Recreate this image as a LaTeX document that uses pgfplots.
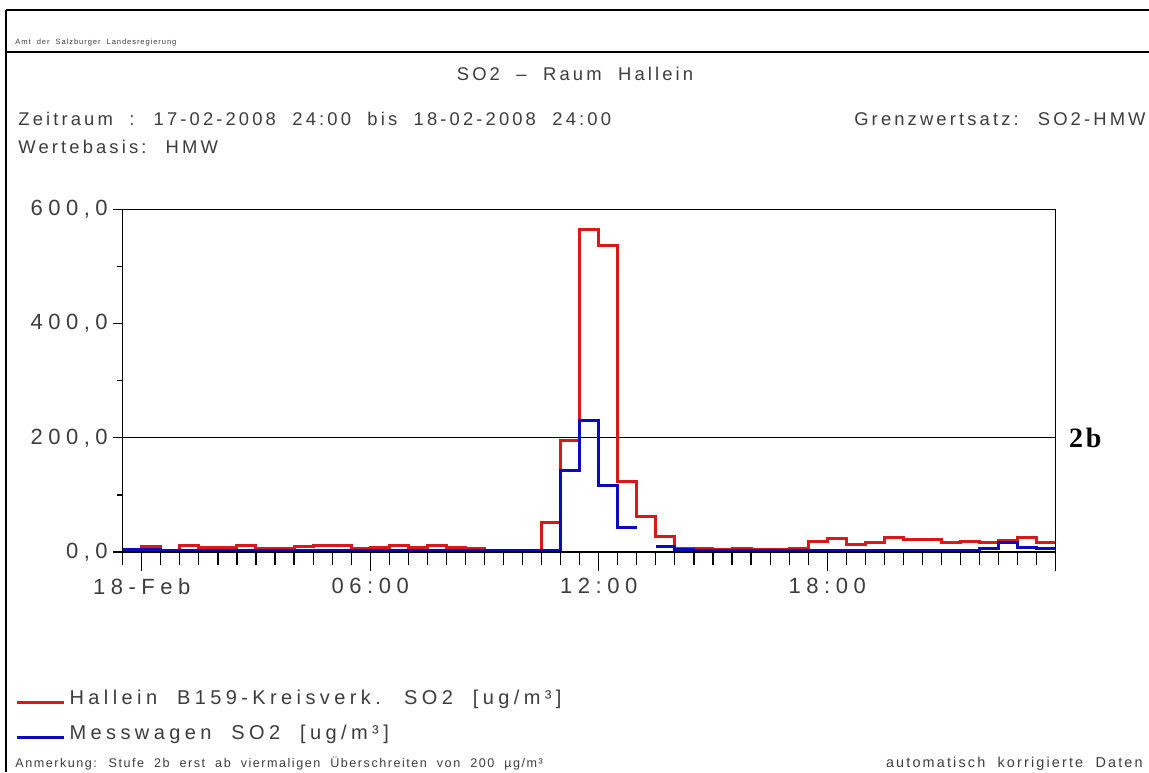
\documentclass[border=0pt]{standalone}
\usepackage{fontspec}
\setmainfont{Liberation Sans}
\newfontfamily\bodyfont[LetterSpace=17, WordSpace=2]{Liberation Sans}
\newfontfamily\legfont[LetterSpace=22, WordSpace=2]{Liberation Sans}
\newfontfamily\tickfont[LetterSpace=25]{Liberation Sans}
\newfontfamily\notefont[LetterSpace=12, WordSpace=2]{Liberation Sans}
\newfontfamily\noterfont[LetterSpace=15, WordSpace=2]{Liberation Sans}
\newfontfamily\tinyfont[LetterSpace=12, WordSpace=2]{Liberation Sans}
\newfontfamily\serifb[LetterSpace=10]{Liberation Serif}
\usepackage{pgfplots}
\pgfplotsset{compat=1.18}
\definecolor{sred}{RGB}{215,25,25}
\definecolor{sblue}{RGB}{10,10,190}
\definecolor{txt}{RGB}{60,60,60}
\begin{document}
\begin{tikzpicture}
\path[use as bounding box] (0,0) rectangle (574.5pt,386pt);
\draw[line width=0.7pt] (3pt,381pt) -- (574.5pt,381pt);
\draw[line width=0.7pt] (3pt,360pt) -- (574.5pt,360pt);
\draw[line width=0.7pt] (3pt,381pt) -- (3pt,0pt);
\node[anchor=base west, inner sep=0pt, text=txt, font=\tinyfont\fontsize{3.8}{4.5}\selectfont] at (7.5pt,363.5pt) {Amt der Salzburger Landesregierung};
\node[anchor=base, inner sep=0pt, text=txt, font=\bodyfont\fontsize{9.2}{11}\selectfont] at (287.5pt,345.5pt) {SO2 – Raum Hallein};
\node[anchor=base west, inner sep=0pt, text=txt, font=\bodyfont\fontsize{9.2}{11}\selectfont] at (9pt,323pt) {Zeitraum : 17-02-2008 24:00 bis 18-02-2008 24:00};
\node[anchor=base east, inner sep=0pt, text=txt, font=\bodyfont\fontsize{9.2}{11}\selectfont] at (573pt,323pt) {Grenzwertsatz: SO2-HMW};
\node[anchor=base west, inner sep=0pt, text=txt, font=\bodyfont\fontsize{9.2}{11}\selectfont] at (9pt,309pt) {Wertebasis: HMW};
\node[anchor=base west, inner sep=0pt, text=txt, font=\notefont\fontsize{6.3}{7}\selectfont] at (7.5pt,2.5pt) {Anmerkung: Stufe 2b erst ab viermaligen Überschreiten von 200 µg/m³};
\node[anchor=base east, inner sep=0pt, text=txt, font=\noterfont\fontsize{7.2}{8}\selectfont] at (571.5pt,2.5pt) {automatisch korrigierte Daten};

\begin{axis}[
  at={(61.35pt,110pt)}, anchor=south west,
  width=466.5pt, height=171.25pt, scale only axis,
  xmin=-0.5, xmax=24, ymin=0, ymax=600,
  xtick=\empty,
  ytick={0,200,400,600}, yticklabels={{0,0},{200,0},{400,0},{600,0}},
  minor ytick={100,300,500},
  ytick pos=left,
  tick align=outside, major tick length=5pt, minor tick length=3pt,
  tick style={black, line width=0.6pt},
  axis line style={black, line width=0.6pt},
  yticklabel style={font=\tickfont\fontsize{11}{13}\selectfont, inner sep=0pt, xshift=-2.3pt, text=txt},
  clip=false,
  legend style={at={(-0.1154,-0.39)}, anchor=north west, draw=none, fill=none, inner sep=0pt,
    font=\legfont\fontsize{10}{12}\selectfont, text=txt, row sep=5pt},
  legend image code/.code={\draw[#1, line width=1.6pt] (0pt,-1.8pt) -- (23.5pt,-1.8pt);},
  legend cell align=left,
]
\addplot[black, line width=0.6pt, forget plot] coordinates {(-0.5,200) (24,200)};
\addplot[sred, line width=1.5pt, const plot mark left] coordinates {
(-0.5,5) (0,9) (0.5,3) (1,12) (1.5,8) (2,8) (2.5,12) (3,6) (3.5,6) (4,9)
(4.5,11) (5,11) (5.5,6) (6,8) (6.5,11) (7,8) (7.5,11) (8,8) (8.5,6) (9,3)
(9.5,3) (10,3) (10.5,51) (11,196) (11.5,565) (12,537) (12.5,124) (13,63) (13.5,27) (14,7)
(14.5,6) (15,5) (15.5,7) (16,5) (16.5,4) (17,6) (17.5,18) (18,23) (18.5,13) (19,17)
(19.5,25) (20,22) (20.5,22) (21,17) (21.5,18) (22,16) (22.5,21) (23,25) (23.5,16) (24,16)};
\addlegendentry{Hallein B159-Kreisverk. SO2 [ug/m³]}
\addplot[sblue, line width=1.5pt, const plot mark left] coordinates {
(-0.5,4) (0,4) (0.5,2) (1,3) (1.5,3) (2,3) (2.5,3) (3,3) (3.5,3) (4,3)
(4.5,3) (5,3) (5.5,3) (6,3) (6.5,3) (7,3) (7.5,3) (8,3) (8.5,3) (9,3)
(9.5,3) (10,3) (10.5,3) (11,142) (11.5,231) (12,117) (12.5,43) (13,43)};
\addlegendentry{Messwagen SO2 [ug/m³]}
\addplot[sblue, line width=1.5pt, const plot mark left, forget plot] coordinates {
(13.5,10) (14,5) (14.5,3) (15,3) (15.5,3) (16,3) (16.5,3) (17,3) (17.5,3) (18,3)
(18.5,3) (19,3) (19.5,3) (20,3) (20.5,3) (21,3) (21.5,3) (22,7) (22.5,17) (23,8) (23.5,6) (24,6)};
\node[anchor=west, inner sep=0pt, xshift=6.5pt, font=\serifb\bfseries\fontsize{14}{16}\selectfont] at (axis cs:24,200) {2b};
\end{axis}

\begin{axis}[
  at={(61.35pt,110pt)}, anchor=south west,
  width=466.5pt, height=171.25pt, scale only axis,
  xmin=-0.5, xmax=24, ymin=0, ymax=600,
  ytick=\empty,
  xtick={0,6,12,18,24}, xticklabels={18-Feb,06:00,12:00,18:00,{}},
  minor xtick={-0.5,0,...,24},
  xtick pos=bottom,
  tick align=outside, major tick length=9.5pt, minor tick length=6.5pt,
  tick style={black, line width=0.6pt},
  axis line style={black, line width=0.6pt},
  xticklabel style={font=\tickfont\fontsize{11}{13}\selectfont, text=txt},
]
\addplot[draw=none] coordinates {(0,0)};
\end{axis}
\end{tikzpicture}
\end{document}
